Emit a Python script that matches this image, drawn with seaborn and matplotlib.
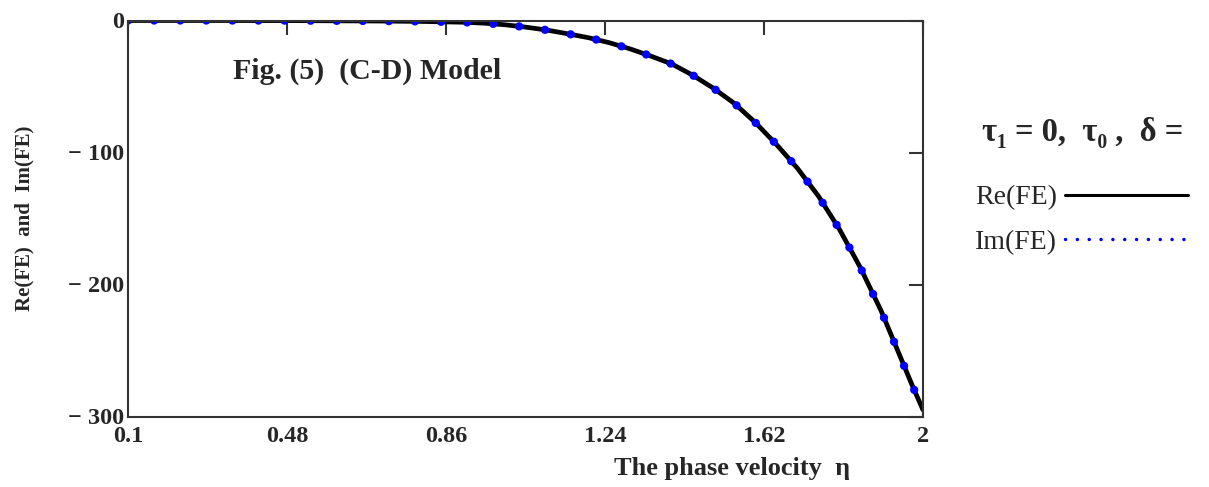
import numpy as np
import pandas as pd
import matplotlib.pyplot as plt
import seaborn as sns
from matplotlib.lines import Line2D

# --- Donnees ---
eta = [0.1, 0.3, 0.5, 0.7, 0.8, 0.9, 0.95, 1.0, 1.05, 1.1, 1.15, 1.2, 1.25, 1.3,
       1.35, 1.4, 1.45, 1.5, 1.55, 1.6, 1.65, 1.7, 1.75, 1.8, 1.85, 1.9, 1.95,
       1.975, 2.0]
re_fe = [0, 0, -0.1, -0.4, -0.7, -1.3, -2.0, -3.2, -5.0, -7.2, -10.0, -13.0, -16.8,
         -21.5, -27, -33, -41.5, -51.5, -63, -77.5, -94, -112, -133, -158, -187,
         -220, -258, -277, -295]
im_fe = [0, 0, -0.1, -0.4, -0.7, -1.3, -2.0, -3.2, -5.0, -7.2, -10.0, -13.0, -16.8,
         -21.5, -27, -33, -41.5, -51.5, -63, -77.5, -94, -112, -133, -158, -187,
         -220, -258, -277, -295]

x_ticks = [0.1, 0.48, 0.86, 1.24, 1.62, 2]
x_tick_labels = ["0.1", "0.48", "0.86", "1.24", "1.62", "2"]
y_ticks = [0, -100, -200, -300]
y_tick_labels = ["0", "\u2212 100", "\u2212 200", "\u2212 300"]

# --- Style ---
sns.set_style("white")
plt.rcParams['font.family'] = ['Liberation Serif', 'DejaVu Serif']

fig = plt.figure(figsize=(12.09, 4.87), dpi=100)
ax = fig.add_axes([128 / 1209, 1 - 416.5 / 487, 795 / 1209, 396 / 487])

df = pd.DataFrame({'eta': eta, 're': re_fe, 'im': im_fe})
sns.lineplot(data=df, x='eta', y='re', color='black', linewidth=3.4, ax=ax)
sns.lineplot(data=df, x='eta', y='im', color='blue', linewidth=6.0,
             linestyle=(0, (0.01, 3.12)), dash_capstyle='round', ax=ax)

ax.set_xlim(0.1, 2)
ax.set_ylim(-300, 0)
ax.set_xticks(x_ticks)
ax.set_xticklabels(x_tick_labels, fontsize=17.5, fontweight='bold')
ax.set_yticks(y_ticks)
ax.set_yticklabels(y_tick_labels, fontsize=17.5, fontweight='bold')
ax.tick_params(direction='in', top=True, right=True, length=10, width=1.5,
               color='#333333')
ax.tick_params(axis='x', pad=7)
ax.tick_params(axis='y', pad=3)
for s in ax.spines.values():
    s.set_color('#333333')
    s.set_linewidth(1.5)

# Axes labels
ax.set_xlabel("The phase velocity  \u03b7", fontsize=19, fontweight='bold', va='center')
ax.xaxis.set_label_coords((732 - 128) / 795, (416.5 - 468) / 396)
ax.set_ylabel("Re(FE)  and  Im(FE)", fontsize=15, fontweight='bold', va='center')
ax.yaxis.set_label_coords((24 - 128) / 795, 0.5)

# Titre dans le graphe
fig.text(233 / 1209, 1 - 71 / 487, "Fig. (5)  (C-D) Model", fontsize=21.5,
         fontweight='bold', va='center', ha='left')

# Legende
fig.text(982 / 1209, 1 - 133 / 487, "\u03c4\u2081 = 0,  \u03c4\u2080 ,  \u03b4 =",
         fontsize=23.5, fontweight='bold', va='center', ha='left')
handles = [Line2D([], [], color='black', linewidth=2.2),
           Line2D([], [], color='blue', linewidth=2.5, linestyle=(0, (0.01, 3.4)),
                  dash_capstyle='round')]
fig.legend(handles, ["Re(FE)", "Im(FE)"], loc='upper left',
           bbox_to_anchor=(975 / 1209, 1 - 185 / 487), frameon=False,
           markerfirst=False, handlelength=4.4, handletextpad=0.3,
           labelspacing=0.68, fontsize=20, borderpad=0, borderaxespad=0)

fig.savefig("out.png", dpi=100)
